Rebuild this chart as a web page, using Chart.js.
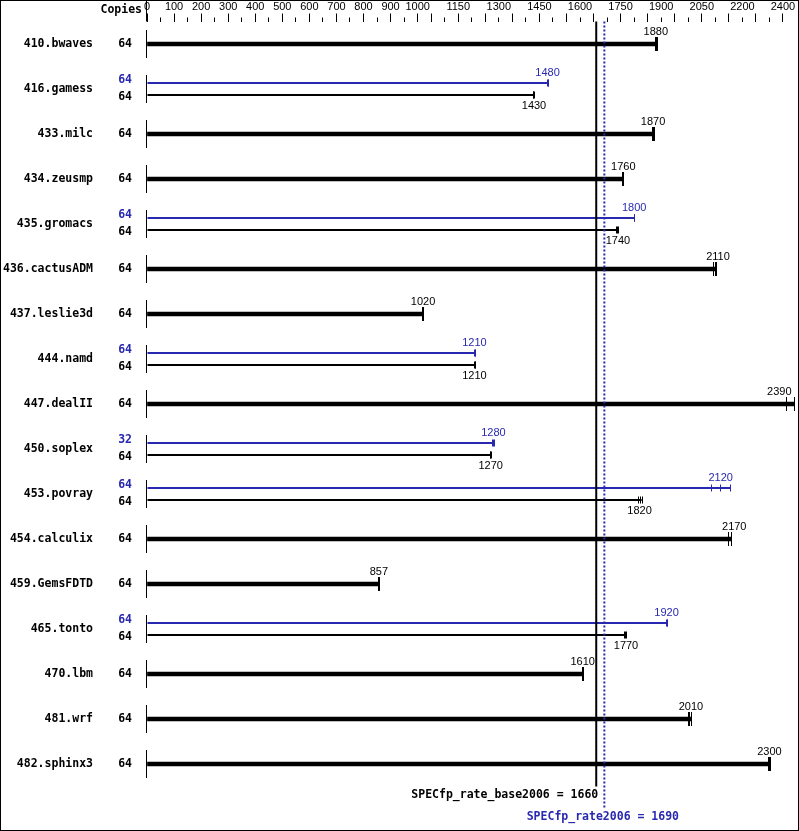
<!DOCTYPE html>
<html>
<head>
<meta charset="utf-8">
<script src="https://cdn.jsdelivr.net/npm/chart.js@4.4.0/dist/chart.umd.min.js"></script>
<style>
  html, body { margin: 0; padding: 0; background: #fff; }
  canvas { display: block; }
</style>
</head>
<body>
<canvas id="specChart" width="799" height="831"></canvas>
<script>
const benchmarks = ['410.bwaves', '416.gamess', '433.milc', '434.zeusmp', '435.gromacs', '436.cactusADM',
  '437.leslie3d', '444.namd', '447.dealII', '450.soplex', '453.povray', '454.calculix', '459.GemsFDTD',
  '465.tonto', '470.lbm', '481.wrf', '482.sphinx3'];
const baseCopies = [64, 64, 64, 64, 64, 64, 64, 64, 64, 64, 64, 64, 64, 64, 64, 64, 64];
const peakCopies = [null, 64, null, null, 64, null, null, 64, null, 32, 64, null, null, 64, null, null, null];
const baseRatio = [1880, 1430, 1870, 1760, 1740, 2110, 1020, 1210, 2390, 1270, 1820, 2170, 857, 1770, 1610, 2010, 2300];
const peakRatio = [null, 1480, null, null, 1800, null, null, 1210, null, 1280, 2120, null, null, 1920, null, null, null];
// individual run results (the small marks at the end of each bar)
const baseRuns = [
  [1876, 1880, 1883], [1426, 1428, 1430], [1866, 1870, 1872], [1756, 1758, 1760],
  [1732, 1735, 1740], [2093, 2098, 2103], [1018, 1020, 1021], [1210, 1211, 1212],
  [2363, 2390, 2392], [1266, 1268, 1270], [1816, 1822, 1828], [2146, 2158, 2158],
  [855, 857, 858], [1764, 1768, 1770], [1606, 1608, 1610], [2000, 2004, 2012], [2296, 2300, 2301]
];
const peakRuns = [
  null, [1478, 1480, 1482], null, null, [1798, 1800, 1800], null, null, [1210, 1211, 1212],
  null, [1274, 1278, 1282], [2083, 2119, 2156], null, null, [1918, 1920, 1922], null, null, null
];
const baseMean = 1660;
const peakMean = 1690;
const baseMetric = 'SPECfp_rate_base2006';
const peakMetric = 'SPECfp_rate2006';

const tickValues = [0, 100, 200, 300, 400, 500, 600, 700, 800, 900, 1000, 1150, 1300, 1450, 1600, 1750, 1900, 2050, 2200, 2350];
const tickLabels = ['0', '100', '200', '300', '400', '500', '600', '700', '800', '900', '1000', '1150', '1300', '1450', '1600', '1750', '1900', '2050', '2200', '2400'];
const majorTicks = [0, 100, 200, 300, 400, 500, 600, 700, 800, 900, 1000, 1050, 1150, 1250, 1350, 1450, 1550, 1650, 1750, 1850, 1950, 2050, 2150, 2250, 2350];
const axisMax = 2400;

const BLUE = '#2828b0';
const monoBold = '"DejaVu Sans Mono", "Liberation Mono", monospace';
const sans = '"Liberation Sans", Arial, sans-serif';

const minorTicks = [];
for (let v = 0; v < axisMax; v += 50) minorTicks.push(v);

const hasPeak = peakRatio.map(v => v !== null);
const maxOf = runs => runs ? Math.max.apply(null, runs) : null;

const singleData = baseRuns.map((r, i) => hasPeak[i] ? null : maxOf(r));
const baseData = baseRuns.map((r, i) => hasPeak[i] ? maxOf(r) : null);
const peakData = peakRuns.map(r => maxOf(r));

const overlay = {
  id: 'overlay',
  afterDatasetsDraw(chart) {
    const ctx = chart.ctx;
    const area = chart.chartArea;
    const x = chart.scales.x, y = chart.scales.y;
    const x0 = x.getPixelForValue(0);
    ctx.save();

    // border of the picture
    ctx.strokeStyle = '#000';
    ctx.lineWidth = 1;
    ctx.strokeRect(0.5, 0.5, chart.width - 1, chart.height - 1);

    // axis line pieces at zero
    ctx.beginPath();
    ctx.moveTo(x0 - 0.5, 0);
    ctx.lineTo(x0 - 0.5, area.top);
    benchmarks.forEach((b, i) => {
      const cy = y.getPixelForValue(i);
      ctx.moveTo(x0 - 0.5, cy - 14);
      ctx.lineTo(x0 - 0.5, cy + 14);
    });
    ctx.stroke();

    // run marks and value labels
    chart.data.datasets.forEach((ds, d) => {
      const meta = chart.getDatasetMeta(d);
      ctx.strokeStyle = ds.backgroundColor;
      ctx.fillStyle = ds.backgroundColor;
      ctx.font = '11px ' + sans;
      ctx.textAlign = 'center';
      ctx.textBaseline = 'middle';
      ds.data.forEach((v, i) => {
        if (v === null) return;
        const el = meta.data[i];
        ctx.beginPath();
        ds.runs[i].forEach(r => {
          const px = Math.round(x.getPixelForValue(r)) + 0.5;
          ctx.moveTo(px, el.y - ds.markHalf);
          ctx.lineTo(px, el.y + ds.markHalf);
        });
        ctx.stroke();
        const txt = String(ds.ratio[i]);
        const w = ctx.measureText(txt).width;
        const lx = Math.min(x.getPixelForValue(ds.ratio[i]), area.right - 5 - w / 2);
        ctx.fillText(txt, lx, el.y + ds.labelShift);
      });
    });

    // copies column
    ctx.font = 'bold 11.5px ' + monoBold;
    ctx.textAlign = 'right';
    ctx.textBaseline = 'middle';
    ctx.fillStyle = '#000';
    ctx.fillText('Copies', 142, 10);
    benchmarks.forEach((b, i) => {
      const cy = y.getPixelForValue(i);
      if (hasPeak[i]) {
        ctx.fillStyle = BLUE;
        ctx.fillText(String(peakCopies[i]), 132, cy - 9);
        ctx.fillStyle = '#000';
        ctx.fillText(String(baseCopies[i]), 132, cy + 8.5);
      } else {
        ctx.fillStyle = '#000';
        ctx.fillText(String(baseCopies[i]), 132, cy);
      }
    });

    // mean lines
    const bx = x.getPixelForValue(baseMean);
    const px = x.getPixelForValue(peakMean);
    ctx.strokeStyle = '#000';
    ctx.lineWidth = 2;
    ctx.beginPath();
    ctx.moveTo(bx, area.top);
    ctx.lineTo(bx, area.bottom);
    ctx.stroke();
    ctx.strokeStyle = BLUE;
    ctx.setLineDash([2, 2]);
    ctx.beginPath();
    ctx.moveTo(px, area.top);
    ctx.lineTo(px, area.bottom + 22);
    ctx.stroke();
    ctx.setLineDash([]);

    ctx.fillStyle = '#000';
    ctx.textAlign = 'right';
    ctx.fillText(baseMetric + ' = ' + baseMean, bx + 2, area.bottom + 8.5);
    ctx.fillStyle = BLUE;
    ctx.textAlign = 'center';
    ctx.fillText(peakMetric + ' = ' + peakMean, px - 1.5, area.bottom + 30.5);
    ctx.restore();
  }
};

const setTicks = scale => { scale.ticks = minorTicks.map(v => ({ value: v })); };

new Chart(document.getElementById('specChart'), {
  type: 'bar',
  data: {
    labels: benchmarks,
    datasets: [
      {
        label: 'base (single)', data: singleData, runs: baseRuns, ratio: baseRatio,
        backgroundColor: '#000', grouped: false, barThickness: 4, markHalf: 7, labelShift: -12
      },
      {
        label: 'peak', data: peakData, runs: peakRuns, ratio: peakRatio,
        backgroundColor: BLUE, categoryPercentage: 24 / 45, barPercentage: 1, maxBarThickness: 2,
        markHalf: 3.5, labelShift: -10.5
      },
      {
        label: 'base', data: baseData, runs: baseRuns, ratio: baseRatio,
        backgroundColor: '#000', categoryPercentage: 24 / 45, barPercentage: 1, maxBarThickness: 2,
        markHalf: 3.5, labelShift: 11
      }
    ]
  },
  options: {
    indexAxis: 'y',
    responsive: false,
    animation: false,
    layout: { padding: { top: 0, left: 0, right: 2.5, bottom: 44.5 } },
    plugins: { legend: { display: false }, tooltip: { enabled: false } },
    scales: {
      x: {
        type: 'linear', position: 'top', min: 0, max: axisMax, weight: 1,
        afterBuildTicks: setTicks,
        afterFit: s => { s.height = 21.5; s.paddingLeft = 0; s.paddingRight = 0; },
        ticks: {
          autoSkip: false, maxRotation: 0, padding: 0, color: '#000',
          font: { family: sans, size: 11 },
          callback: v => { const i = tickValues.indexOf(v); return i < 0 ? '' : tickLabels[i]; }
        },
        grid: {
          drawOnChartArea: false, drawTicks: true, tickLength: 8, tickWidth: 1,
          tickColor: c => (c.tick && majorTicks.indexOf(c.tick.value) >= 0) ? '#000' : 'rgba(0,0,0,0)'
        },
        border: { display: false }
      },
      xMinor: {
        type: 'linear', position: 'top', min: 0, max: axisMax, weight: 0,
        afterBuildTicks: setTicks,
        afterFit: s => { s.height = 0; s.paddingLeft = 0; s.paddingRight = 0; },
        ticks: { display: false },
        grid: { drawOnChartArea: false, drawTicks: true, tickLength: 4, tickWidth: 1, tickColor: '#000' },
        border: { display: false }
      },
      y: {
        type: 'category', position: 'left',
        afterFit: s => { s.width = 147; s.paddingTop = 0; s.paddingBottom = 0; },
        ticks: { autoSkip: false, padding: 54, color: '#000', font: { family: monoBold, size: 11.5, weight: 'bold' } },
        grid: { display: false, drawTicks: false },
        border: { display: false }
      }
    }
  },
  plugins: [overlay]
});
</script>
</body>
</html>
